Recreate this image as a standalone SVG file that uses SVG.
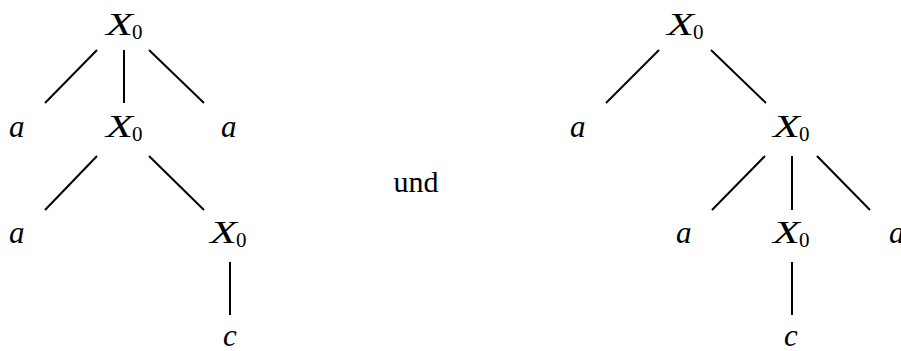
<svg xmlns="http://www.w3.org/2000/svg" width="901" height="351" viewBox="0 0 901 351">
<style>
.v{font-style:italic;font-size:31px;fill:#000}
.s{font-size:21px;fill:#000}
.r{font-size:30px;fill:#000}
.e{stroke:#000;stroke-width:2;fill:none}
</style>
<rect width="901" height="351" fill="#fff"/>
<g id="connectors">
<line class="e" x1="97" y1="50" x2="45" y2="103"/>
<line class="e" x1="124" y1="50" x2="124" y2="103"/>
<line class="e" x1="149" y1="50" x2="204" y2="103"/>
<line class="e" x1="97" y1="156" x2="45" y2="210"/>
<line class="e" x1="149" y1="156" x2="204" y2="210"/>
<line class="e" x1="230" y1="262" x2="230" y2="315"/>
<line class="e" x1="659" y1="50" x2="606" y2="103"/>
<line class="e" x1="711" y1="50" x2="766" y2="103"/>
<line class="e" x1="765" y1="156" x2="712" y2="210"/>
<line class="e" x1="792" y1="156" x2="792" y2="210"/>
<line class="e" x1="817" y1="156" x2="870" y2="210"/>
<line class="e" x1="792" y1="262" x2="792" y2="315"/>
</g>
<g font-family="Liberation Serif, serif">
<g id="L_root"><text class="v" x="106" y="35" textLength="27" lengthAdjust="spacingAndGlyphs">X</text><text class="s" x="132" y="39">0</text></g>
<g id="L_a1"><text class="v" x="9" y="137">a</text></g>
<g id="L_X1"><text class="v" x="106" y="137" textLength="27" lengthAdjust="spacingAndGlyphs">X</text><text class="s" x="132" y="141">0</text></g>
<g id="L_a2"><text class="v" x="221" y="137">a</text></g>
<g id="L_a3"><text class="v" x="9" y="243">a</text></g>
<g id="L_X2"><text class="v" x="210" y="243" textLength="27" lengthAdjust="spacingAndGlyphs">X</text><text class="s" x="236" y="247">0</text></g>
<g id="L_c"><text class="v" x="223" y="346">c</text></g>
<g id="und"><text class="r" x="416" y="192" text-anchor="middle">und</text></g>
<g id="R_root"><text class="v" x="667" y="35" textLength="27" lengthAdjust="spacingAndGlyphs">X</text><text class="s" x="693" y="39">0</text></g>
<g id="R_a1"><text class="v" x="570" y="137">a</text></g>
<g id="R_X1"><text class="v" x="773" y="137" textLength="27" lengthAdjust="spacingAndGlyphs">X</text><text class="s" x="799" y="141">0</text></g>
<g id="R_a2"><text class="v" x="676" y="243">a</text></g>
<g id="R_X2"><text class="v" x="773" y="243" textLength="27" lengthAdjust="spacingAndGlyphs">X</text><text class="s" x="799" y="247">0</text></g>
<g id="R_a3"><text class="v" x="889" y="243">a</text></g>
<g id="R_c"><text class="v" x="784" y="346">c</text></g>
</g>
</svg>
